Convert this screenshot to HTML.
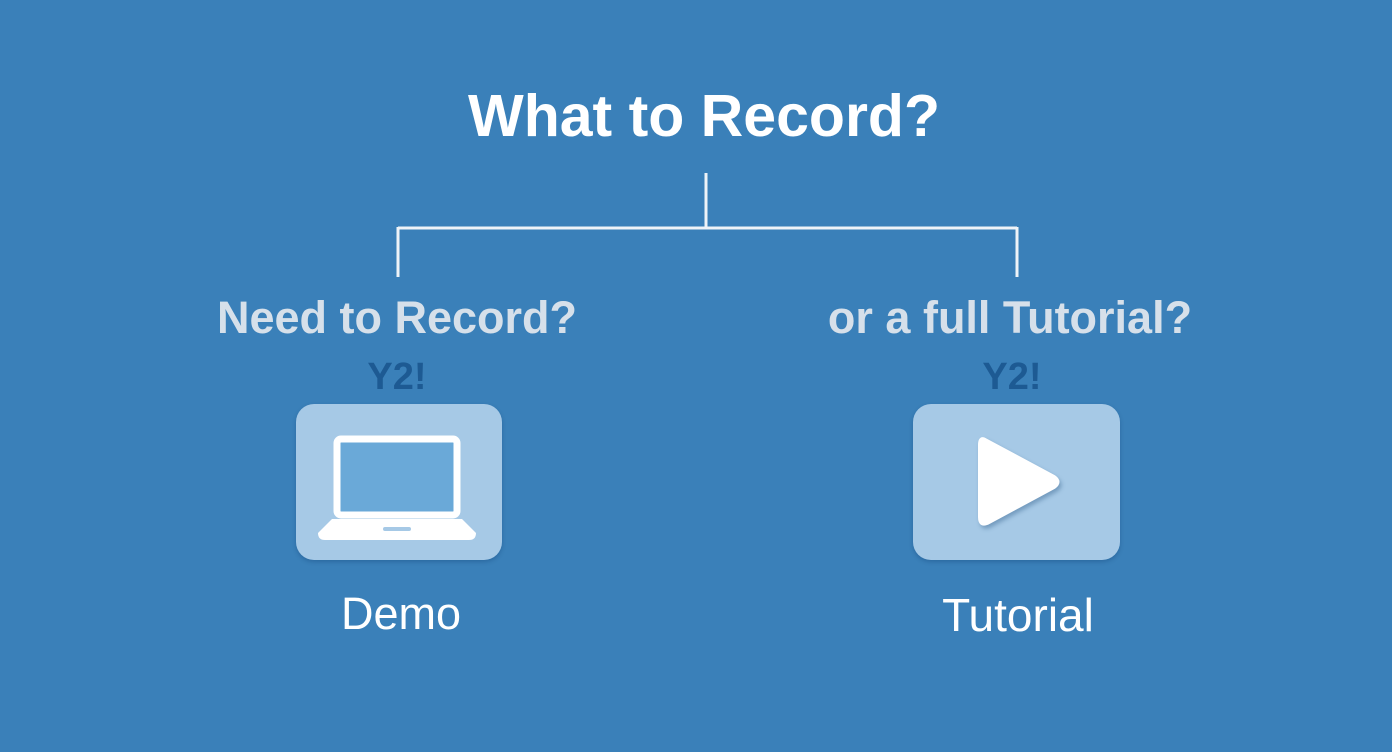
<!DOCTYPE html>
<html><head><style>
html,body{margin:0;padding:0}
body{width:1392px;height:752px;background:#3a80b9;position:relative;overflow:hidden;font-family:"Liberation Sans",sans-serif}
.t{position:absolute;white-space:nowrap;transform:translateX(-50%)}
.box{position:absolute;background:#a6c9e6;border-radius:18px;box-shadow:0 2px 4px rgba(0,40,90,.25)}
</style></head><body>
<div class="t" style="left:704px;top:82px;font-size:59px;font-weight:bold;color:#fff">What to Record?</div>
<svg style="position:absolute;left:0;top:0" width="1392" height="752">
<g stroke="#eef3f8" stroke-width="3" fill="none">
<line x1="706" y1="173" x2="706" y2="228"/>
<line x1="398" y1="228" x2="1017" y2="228"/>
<line x1="398" y1="227" x2="398" y2="277"/>
<line x1="1017" y1="227" x2="1017" y2="277"/>
</g></svg>
<div class="t" style="left:397px;top:292px;font-size:45px;font-weight:bold;color:#d6e0ea">Need to Record?</div>
<div class="t" style="left:1010px;top:292px;font-size:45px;font-weight:bold;color:#d6e0ea">or a full Tutorial?</div>
<div class="t" style="left:397px;top:356px;font-size:38px;font-weight:bold;color:#1d5a93">Y2!</div>
<div class="t" style="left:1012px;top:356px;font-size:38px;font-weight:bold;color:#1d5a93">Y2!</div>
<div class="box" style="left:296px;top:404px;width:206px;height:156px"></div>
<div class="box" style="left:913px;top:404px;width:207px;height:156px"></div>
<svg style="position:absolute;left:0;top:0" width="1392" height="752">
<rect x="337" y="439" width="120" height="76" rx="4" fill="#6aa9d8" stroke="#fff" stroke-width="7"/>
<path d="M332 519 H462 L476 533 Q476 540 469 540 H325 Q318 540 318 533 Z" fill="#fff"/>
<rect x="383" y="527" width="28" height="4" rx="2" fill="#a6c9e6"/>
<path d="M985 440 Q980 437 980 445 V517 Q980 527 989 522 L1054 487 Q1061 482 1054 477 Z" fill="#fff" stroke="#fff" stroke-width="4" stroke-linejoin="round" style="filter:drop-shadow(2px 3px 2px rgba(0,50,100,.3))"/>
</svg>
<div class="t" style="left:401px;top:588px;font-size:45px;color:#fff">Demo</div>
<div class="t" style="left:1018px;top:588px;font-size:46px;color:#fff">Tutorial</div>
</body></html>
